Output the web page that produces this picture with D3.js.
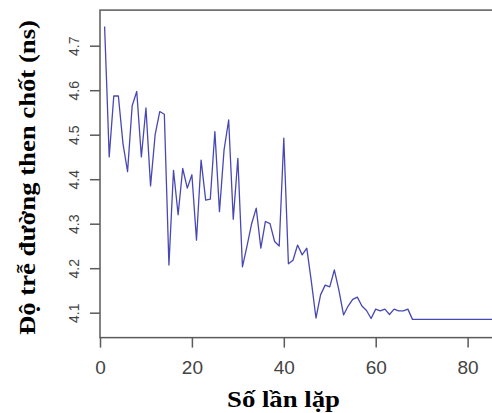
<!DOCTYPE html>
<html>
<head>
<meta charset="utf-8">
<script src="https://cdn.jsdelivr.net/npm/d3@7"></script>
<style>
  html, body { margin: 0; padding: 0; background: #fff; overflow: hidden; }
  svg { display: block; }
</style>
</head>
<body>
<div id="chart"></div>
<script>
// ---- data ----
const iterations = [1, 1.5, 2, 3, 4, 5, 6, 7, 8, 9, 10, 11, 12, 13, 14, 15, 16, 17, 18, 19, 20,
  21, 22, 23, 24, 25, 26, 27, 28, 29, 30, 31, 32, 33, 34, 35, 36, 37, 38, 39, 40,
  41, 42, 43, 44, 45, 46, 47, 48, 49, 50, 51, 52, 53, 54, 55, 56, 57, 58, 59, 60,
  61, 62, 63, 64, 65, 66, 67, 68, 69, 70, 71, 72, 73, 74, 75, 76, 77, 78, 79, 80,
  81, 82, 83, 84, 85, 86, 87];
const delays = [4.743, 4.60, 4.45, 4.587, 4.587, 4.48, 4.417, 4.565, 4.597, 4.45, 4.56,
  4.385, 4.50, 4.552, 4.546, 4.207, 4.42, 4.32, 4.424, 4.38, 4.41,
  4.263, 4.443, 4.353, 4.355, 4.507, 4.327, 4.466, 4.533, 4.31, 4.447,
  4.203, 4.25, 4.30, 4.335, 4.245, 4.305, 4.30, 4.26, 4.25, 4.492,
  4.21, 4.218, 4.252, 4.23, 4.245, 4.17, 4.088, 4.14, 4.162, 4.158,
  4.196, 4.15, 4.095, 4.115, 4.13, 4.135, 4.115, 4.105, 4.087, 4.108,
  4.104, 4.108, 4.096, 4.108, 4.104, 4.104, 4.108, 4.085, 4.085, 4.085,
  4.085, 4.085, 4.085, 4.085, 4.085, 4.085, 4.085, 4.085, 4.085, 4.085,
  4.085, 4.085, 4.085, 4.085, 4.085, 4.085, 4.085];
const xTicks = [0, 20, 40, 60, 80];
const yTicks = [4.1, 4.2, 4.3, 4.4, 4.5, 4.6, 4.7];
const xLimits = [0, 100];
const yLimits = [4.044, 4.78];
const xTitle = "Số lần lặp";
const yTitle = "Độ trễ đường then chốt (ns)";

// ---- drawing ----
const W = 492, H = 413;
const svg = d3.select("#chart").append("svg").attr("width", W).attr("height", H);

const x = d3.scaleLinear().domain([0, 100]).range([100, 559.5]);
const y = d3.scaleLinear().domain([4.1, 4.7]).range([312.7, 45.7]);

const frameColor = "#5a5a5a";

// line
const line = d3.line().x((d, i) => x(iterations[i])).y(d => y(d));
svg.append("path")
  .datum(delays)
  .attr("d", line)
  .attr("fill", "none")
  .attr("stroke", "#4848b4")
  .attr("stroke-width", 1.3)
  .attr("stroke-linejoin", "round");

// frame
svg.append("rect")
  .attr("x", x(xLimits[0]))
  .attr("y", y(yLimits[1]))
  .attr("width", x(xLimits[1]) - x(xLimits[0]))
  .attr("height", y(yLimits[0]) - y(yLimits[1]))
  .attr("fill", "none")
  .attr("stroke", frameColor)
  .attr("stroke-width", 1.5);

// x axis
const gx = svg.append("g")
  .attr("transform", `translate(0,${y(yLimits[0])})`)
  .call(d3.axisBottom(x).tickValues(xTicks).tickSize(10).tickPadding(8).tickFormat(d3.format("d")));
gx.select(".domain").remove();
gx.selectAll(".tick line").attr("stroke", frameColor).attr("stroke-width", 1.5);
gx.selectAll(".tick text")
  .attr("fill", "#444")
  .attr("font-family", "Liberation Sans, Arial, sans-serif")
  .attr("font-size", 19)
  .attr("dy", "0.95em");

// y axis
const gy = svg.append("g")
  .attr("transform", `translate(${x(xLimits[0])},0)`)
  .call(d3.axisLeft(y).tickValues(yTicks).tickSize(10).tickFormat(d3.format(".1f")));
gy.select(".domain").remove();
gy.selectAll(".tick line").attr("stroke", frameColor).attr("stroke-width", 1.5);
gy.selectAll(".tick text")
  .attr("fill", "#444")
  .attr("font-family", "Liberation Sans, Arial, sans-serif")
  .attr("font-size", 14)
  .attr("x", null).attr("dy", null)
  .attr("text-anchor", "middle")
  .attr("transform", "translate(-21,0) rotate(-90)");

// titles
svg.append("text")
  .attr("x", 283.5).attr("y", 407)
  .attr("text-anchor", "middle")
  .attr("font-family", "Liberation Serif, Times New Roman, serif")
  .attr("font-weight", "bold")
  .attr("font-size", 24)
  .attr("textLength", 113)
  .attr("lengthAdjust", "spacingAndGlyphs")
  .attr("fill", "#000")
  .text(xTitle);

svg.append("text")
  .attr("transform", "translate(35,177.5) rotate(-90)")
  .attr("text-anchor", "middle")
  .attr("font-family", "Liberation Serif, Times New Roman, serif")
  .attr("font-weight", "bold")
  .attr("font-size", 24)
  .attr("textLength", 315)
  .attr("lengthAdjust", "spacingAndGlyphs")
  .attr("fill", "#000")
  .text(yTitle);
</script>
</body>
</html>
